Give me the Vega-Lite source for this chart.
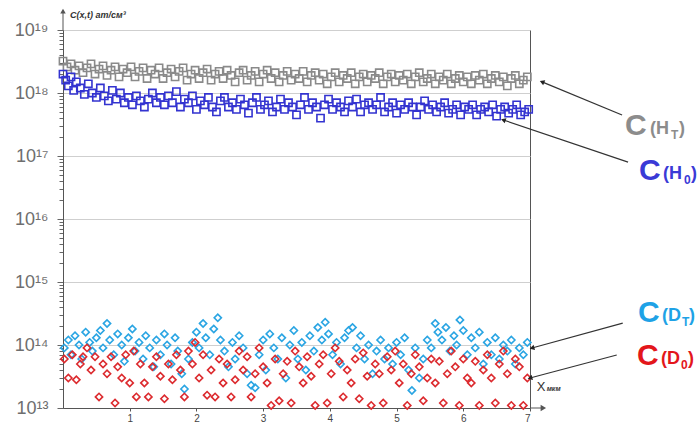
{
"$schema": "https://vega.github.io/schema/vega-lite/v6.json",
"width": 467, "height": 378,
"autosize": "none",
"padding": {"left": 63, "top": 30, "right": 170, "bottom": 15},
"background": "white",
"config": {"font": "Liberation Sans", "view": {"stroke": "#555", "strokeWidth": 1}},
"datasets": {
"pts": [
{"s":"HT","x":0.00,"y":3.2e18},{"s":"HT","x":0.06,"y":2.6e18},{"s":"HT","x":0.12,"y":2.9e18},{"s":"HT","x":0.18,"y":2.3e18},{"s":"HT","x":0.24,"y":2.7e18},{"s":"HT","x":0.30,"y":2.1e18},{"s":"HT","x":0.36,"y":2.5e18},{"s":"HT","x":0.42,"y":2.9e18},{"s":"HT","x":0.48,"y":2.0e18},{"s":"HT","x":0.54,"y":2.4e18},{"s":"HT","x":0.60,"y":2.7e18},{"s":"HT","x":0.66,"y":1.9e18},{"s":"HT","x":0.72,"y":2.3e18},{"s":"HT","x":0.78,"y":2.6e18},{"s":"HT","x":0.84,"y":1.8e18},{"s":"HT","x":0.90,"y":2.4e18},{"s":"HT","x":0.96,"y":2.1e18},{"s":"HT","x":1.02,"y":2.6e18},{"s":"HT","x":1.08,"y":1.8e18},{"s":"HT","x":1.14,"y":2.2e18},{"s":"HT","x":1.20,"y":2.5e18},{"s":"HT","x":1.26,"y":1.7e18},{"s":"HT","x":1.32,"y":2.3e18},{"s":"HT","x":1.38,"y":2.0e18},{"s":"HT","x":1.44,"y":2.5e18},{"s":"HT","x":1.50,"y":1.7e18},{"s":"HT","x":1.56,"y":2.1e18},{"s":"HT","x":1.62,"y":2.4e18},{"s":"HT","x":1.68,"y":1.8e18},{"s":"HT","x":1.74,"y":2.2e18},{"s":"HT","x":1.80,"y":2.5e18},{"s":"HT","x":1.86,"y":1.6e18},{"s":"HT","x":1.92,"y":2.0e18},{"s":"HT","x":1.98,"y":2.3e18},{"s":"HT","x":2.04,"y":1.7e18},{"s":"HT","x":2.10,"y":2.1e18},{"s":"HT","x":2.16,"y":2.4e18},{"s":"HT","x":2.22,"y":1.6e18},{"s":"HT","x":2.28,"y":2.0e18},{"s":"HT","x":2.34,"y":2.2e18},{"s":"HT","x":2.40,"y":1.7e18},{"s":"HT","x":2.46,"y":2.3e18},{"s":"HT","x":2.52,"y":1.9e18},{"s":"HT","x":2.58,"y":1.5e18},{"s":"HT","x":2.64,"y":2.1e18},{"s":"HT","x":2.70,"y":2.3e18},{"s":"HT","x":2.76,"y":1.6e18},{"s":"HT","x":2.82,"y":1.9e18},{"s":"HT","x":2.88,"y":2.2e18},{"s":"HT","x":2.94,"y":1.5e18},{"s":"HT","x":3.00,"y":2.0e18},{"s":"HT","x":3.06,"y":2.3e18},{"s":"HT","x":3.12,"y":1.7e18},{"s":"HT","x":3.18,"y":2.1e18},{"s":"HT","x":3.24,"y":1.5e18},{"s":"HT","x":3.30,"y":1.9e18},{"s":"HT","x":3.36,"y":2.2e18},{"s":"HT","x":3.42,"y":1.6e18},{"s":"HT","x":3.48,"y":2.0e18},{"s":"HT","x":3.54,"y":1.7e18},{"s":"HT","x":3.60,"y":2.2e18},{"s":"HT","x":3.66,"y":1.5e18},{"s":"HT","x":3.72,"y":1.9e18},{"s":"HT","x":3.78,"y":2.1e18},{"s":"HT","x":3.84,"y":1.6e18},{"s":"HT","x":3.90,"y":2.0e18},{"s":"HT","x":3.96,"y":1.4e18},{"s":"HT","x":4.02,"y":1.8e18},{"s":"HT","x":4.08,"y":2.1e18},{"s":"HT","x":4.14,"y":1.5e18},{"s":"HT","x":4.20,"y":1.9e18},{"s":"HT","x":4.26,"y":1.7e18},{"s":"HT","x":4.32,"y":2.1e18},{"s":"HT","x":4.38,"y":1.4e18},{"s":"HT","x":4.44,"y":1.8e18},{"s":"HT","x":4.50,"y":2.0e18},{"s":"HT","x":4.56,"y":1.5e18},{"s":"HT","x":4.62,"y":1.9e18},{"s":"HT","x":4.68,"y":1.7e18},{"s":"HT","x":4.74,"y":2.1e18},{"s":"HT","x":4.80,"y":1.4e18},{"s":"HT","x":4.86,"y":1.8e18},{"s":"HT","x":4.92,"y":2.0e18},{"s":"HT","x":4.98,"y":1.5e18},{"s":"HT","x":5.04,"y":1.9e18},{"s":"HT","x":5.10,"y":1.6e18},{"s":"HT","x":5.16,"y":2.0e18},{"s":"HT","x":5.22,"y":1.4e18},{"s":"HT","x":5.28,"y":1.8e18},{"s":"HT","x":5.34,"y":2.1e18},{"s":"HT","x":5.40,"y":1.5e18},{"s":"HT","x":5.46,"y":1.7e18},{"s":"HT","x":5.52,"y":2.0e18},{"s":"HT","x":5.58,"y":1.4e18},{"s":"HT","x":5.64,"y":1.8e18},{"s":"HT","x":5.70,"y":1.6e18},{"s":"HT","x":5.76,"y":2.0e18},{"s":"HT","x":5.82,"y":1.4e18},{"s":"HT","x":5.88,"y":1.7e18},{"s":"HT","x":5.94,"y":1.9e18},{"s":"HT","x":6.00,"y":1.5e18},{"s":"HT","x":6.06,"y":1.8e18},{"s":"HT","x":6.12,"y":1.4e18},{"s":"HT","x":6.18,"y":1.9e18},{"s":"HT","x":6.24,"y":1.6e18},{"s":"HT","x":6.30,"y":2.0e18},{"s":"HT","x":6.36,"y":1.4e18},{"s":"HT","x":6.42,"y":1.7e18},{"s":"HT","x":6.48,"y":1.9e18},{"s":"HT","x":6.54,"y":1.5e18},{"s":"HT","x":6.60,"y":1.8e18},{"s":"HT","x":6.66,"y":1.3e18},{"s":"HT","x":6.72,"y":1.7e18},{"s":"HT","x":6.78,"y":1.9e18},{"s":"HT","x":6.84,"y":1.4e18},{"s":"HT","x":6.90,"y":1.6e18},{"s":"HT","x":6.96,"y":1.8e18},
{"s":"H0","x":0.00,"y":2.0e18},{"s":"H0","x":0.04,"y":1.6e18},{"s":"H0","x":0.08,"y":1.3e18},{"s":"H0","x":0.12,"y":1.8e18},{"s":"H0","x":0.16,"y":1.1e18},{"s":"H0","x":0.20,"y":1.5e18},{"s":"H0","x":0.26,"y":1.2e18},{"s":"H0","x":0.32,"y":9.5e17},{"s":"H0","x":0.38,"y":1.4e18},{"s":"H0","x":0.44,"y":1.0e18},{"s":"H0","x":0.50,"y":8.5e17},{"s":"H0","x":0.56,"y":1.2e18},{"s":"H0","x":0.62,"y":9.0e17},{"s":"H0","x":0.68,"y":7.5e17},{"s":"H0","x":0.74,"y":1.1e18},{"s":"H0","x":0.80,"y":8.0e17},{"s":"H0","x":0.86,"y":1.0e18},{"s":"H0","x":0.92,"y":7.0e17},{"s":"H0","x":0.98,"y":8.5e17},{"s":"H0","x":1.04,"y":6.5e17},{"s":"H0","x":1.10,"y":9.0e17},{"s":"H0","x":1.16,"y":7.5e17},{"s":"H0","x":1.22,"y":6.0e17},{"s":"H0","x":1.28,"y":8.0e17},{"s":"H0","x":1.34,"y":1.0e18},{"s":"H0","x":1.40,"y":7.0e17},{"s":"H0","x":1.46,"y":8.5e17},{"s":"H0","x":1.52,"y":6.5e17},{"s":"H0","x":1.58,"y":9.0e17},{"s":"H0","x":1.64,"y":7.0e17},{"s":"H0","x":1.70,"y":1.05e18},{"s":"H0","x":1.76,"y":6.0e17},{"s":"H0","x":1.82,"y":8.0e17},{"s":"H0","x":1.88,"y":7.0e17},{"s":"H0","x":1.94,"y":9.0e17},{"s":"H0","x":2.00,"y":5.5e17},{"s":"H0","x":2.06,"y":7.5e17},{"s":"H0","x":2.12,"y":6.5e17},{"s":"H0","x":2.18,"y":8.5e17},{"s":"H0","x":2.24,"y":6.0e17},{"s":"H0","x":2.30,"y":5.0e17},{"s":"H0","x":2.36,"y":7.5e17},{"s":"H0","x":2.42,"y":8.5e17},{"s":"H0","x":2.48,"y":6.0e17},{"s":"H0","x":2.54,"y":7.0e17},{"s":"H0","x":2.60,"y":5.5e17},{"s":"H0","x":2.66,"y":8.0e17},{"s":"H0","x":2.72,"y":6.5e17},{"s":"H0","x":2.78,"y":4.8e17},{"s":"H0","x":2.84,"y":7.0e17},{"s":"H0","x":2.90,"y":8.5e17},{"s":"H0","x":2.96,"y":5.5e17},{"s":"H0","x":3.02,"y":6.5e17},{"s":"H0","x":3.08,"y":7.5e17},{"s":"H0","x":3.14,"y":5.0e17},{"s":"H0","x":3.20,"y":6.0e17},{"s":"H0","x":3.26,"y":8.0e17},{"s":"H0","x":3.32,"y":5.5e17},{"s":"H0","x":3.38,"y":7.0e17},{"s":"H0","x":3.44,"y":6.0e17},{"s":"H0","x":3.50,"y":4.5e17},{"s":"H0","x":3.56,"y":6.5e17},{"s":"H0","x":3.62,"y":8.5e17},{"s":"H0","x":3.68,"y":5.5e17},{"s":"H0","x":3.74,"y":7.0e17},{"s":"H0","x":3.80,"y":6.0e17},{"s":"H0","x":3.86,"y":4.0e17},{"s":"H0","x":3.92,"y":6.5e17},{"s":"H0","x":3.98,"y":8.0e17},{"s":"H0","x":4.04,"y":5.5e17},{"s":"H0","x":4.10,"y":7.0e17},{"s":"H0","x":4.16,"y":6.0e17},{"s":"H0","x":4.22,"y":5.0e17},{"s":"H0","x":4.28,"y":7.5e17},{"s":"H0","x":4.34,"y":6.0e17},{"s":"H0","x":4.40,"y":8.0e17},{"s":"H0","x":4.46,"y":5.0e17},{"s":"H0","x":4.52,"y":6.5e17},{"s":"H0","x":4.58,"y":7.0e17},{"s":"H0","x":4.64,"y":5.5e17},{"s":"H0","x":4.70,"y":6.5e17},{"s":"H0","x":4.76,"y":8.5e17},{"s":"H0","x":4.82,"y":5.0e17},{"s":"H0","x":4.88,"y":6.0e17},{"s":"H0","x":4.94,"y":7.0e17},{"s":"H0","x":5.00,"y":4.8e17},{"s":"H0","x":5.06,"y":6.5e17},{"s":"H0","x":5.12,"y":5.5e17},{"s":"H0","x":5.18,"y":7.0e17},{"s":"H0","x":5.24,"y":6.0e17},{"s":"H0","x":5.30,"y":4.5e17},{"s":"H0","x":5.36,"y":6.0e17},{"s":"H0","x":5.42,"y":7.5e17},{"s":"H0","x":5.48,"y":5.5e17},{"s":"H0","x":5.54,"y":6.5e17},{"s":"H0","x":5.60,"y":5.0e17},{"s":"H0","x":5.66,"y":6.0e17},{"s":"H0","x":5.72,"y":7.0e17},{"s":"H0","x":5.78,"y":4.8e17},{"s":"H0","x":5.84,"y":5.5e17},{"s":"H0","x":5.90,"y":6.5e17},{"s":"H0","x":5.96,"y":4.5e17},{"s":"H0","x":6.02,"y":6.0e17},{"s":"H0","x":6.08,"y":5.5e17},{"s":"H0","x":6.14,"y":6.5e17},{"s":"H0","x":6.20,"y":4.5e17},{"s":"H0","x":6.26,"y":5.5e17},{"s":"H0","x":6.32,"y":6.0e17},{"s":"H0","x":6.38,"y":5.0e17},{"s":"H0","x":6.44,"y":6.5e17},{"s":"H0","x":6.50,"y":4.3e17},{"s":"H0","x":6.56,"y":5.5e17},{"s":"H0","x":6.62,"y":6.0e17},{"s":"H0","x":6.68,"y":4.8e17},{"s":"H0","x":6.74,"y":5.5e17},{"s":"H0","x":6.80,"y":6.5e17},{"s":"H0","x":6.86,"y":4.5e17},{"s":"H0","x":6.92,"y":5.0e17},{"s":"H0","x":6.98,"y":5.5e17},
{"s":"DT","x":0.02,"y":9e13},{"s":"DT","x":0.08,"y":12e13},{"s":"DT","x":0.12,"y":7e13},{"s":"DT","x":0.18,"y":14e13},{"s":"DT","x":0.24,"y":10e13},{"s":"DT","x":0.28,"y":6e13},{"s":"DT","x":0.34,"y":16e13},{"s":"DT","x":0.40,"y":11e13},{"s":"DT","x":0.44,"y":8e13},{"s":"DT","x":0.50,"y":13e13},{"s":"DT","x":0.56,"y":17e13},{"s":"DT","x":0.60,"y":9e13},{"s":"DT","x":0.66,"y":22e13},{"s":"DT","x":0.70,"y":12e13},{"s":"DT","x":0.76,"y":7e13},{"s":"DT","x":0.82,"y":15e13},{"s":"DT","x":0.88,"y":10e13},{"s":"DT","x":0.92,"y":5.5e13},{"s":"DT","x":0.98,"y":13e13},{"s":"DT","x":1.04,"y":18e13},{"s":"DT","x":1.08,"y":8e13},{"s":"DT","x":1.14,"y":11e13},{"s":"DT","x":1.20,"y":6e13},{"s":"DT","x":1.24,"y":14e13},{"s":"DT","x":1.30,"y":9e13},{"s":"DT","x":1.36,"y":4.5e13},{"s":"DT","x":1.40,"y":12e13},{"s":"DT","x":1.46,"y":7e13},{"s":"DT","x":1.52,"y":15e13},{"s":"DT","x":1.56,"y":10e13},{"s":"DT","x":1.62,"y":5e13},{"s":"DT","x":1.68,"y":13e13},{"s":"DT","x":1.72,"y":8e13},{"s":"DT","x":1.78,"y":3.5e13},{"s":"DT","x":1.82,"y":2e13},{"s":"DT","x":1.88,"y":6e13},{"s":"DT","x":1.94,"y":11e13},{"s":"DT","x":2.00,"y":16e13},{"s":"DT","x":2.04,"y":9e13},{"s":"DT","x":2.10,"y":22e13},{"s":"DT","x":2.14,"y":13e13},{"s":"DT","x":2.20,"y":7e13},{"s":"DT","x":2.26,"y":18e13},{"s":"DT","x":2.32,"y":27e13},{"s":"DT","x":2.36,"y":12e13},{"s":"DT","x":2.42,"y":8e13},{"s":"DT","x":2.48,"y":4.5e13},{"s":"DT","x":2.54,"y":11e13},{"s":"DT","x":2.58,"y":6e13},{"s":"DT","x":2.64,"y":14e13},{"s":"DT","x":2.70,"y":9e13},{"s":"DT","x":2.76,"y":3.5e13},{"s":"DT","x":2.82,"y":2.3e13},{"s":"DT","x":2.88,"y":2.1e13},{"s":"DT","x":2.94,"y":7e13},{"s":"DT","x":3.00,"y":12e13},{"s":"DT","x":3.04,"y":4e13},{"s":"DT","x":3.10,"y":15e13},{"s":"DT","x":3.16,"y":9e13},{"s":"DT","x":3.22,"y":6e13},{"s":"DT","x":3.28,"y":13e13},{"s":"DT","x":3.34,"y":3e13},{"s":"DT","x":3.40,"y":10e13},{"s":"DT","x":3.46,"y":17e13},{"s":"DT","x":3.52,"y":6e13},{"s":"DT","x":3.58,"y":11e13},{"s":"DT","x":3.64,"y":4e13},{"s":"DT","x":3.70,"y":14e13},{"s":"DT","x":3.76,"y":8e13},{"s":"DT","x":3.82,"y":19e13},{"s":"DT","x":3.88,"y":12e13},{"s":"DT","x":3.93,"y":23e13},{"s":"DT","x":3.98,"y":15e13},{"s":"DT","x":4.04,"y":7e13},{"s":"DT","x":4.10,"y":11e13},{"s":"DT","x":4.16,"y":5e13},{"s":"DT","x":4.22,"y":13e13},{"s":"DT","x":4.28,"y":17e13},{"s":"DT","x":4.34,"y":19e13},{"s":"DT","x":4.40,"y":9e13},{"s":"DT","x":4.46,"y":14e13},{"s":"DT","x":4.52,"y":6e13},{"s":"DT","x":4.58,"y":10e13},{"s":"DT","x":4.64,"y":3.5e13},{"s":"DT","x":4.70,"y":8e13},{"s":"DT","x":4.76,"y":12e13},{"s":"DT","x":4.82,"y":6e13},{"s":"DT","x":4.88,"y":9e13},{"s":"DT","x":4.94,"y":5e13},{"s":"DT","x":5.00,"y":11e13},{"s":"DT","x":5.06,"y":7e13},{"s":"DT","x":5.12,"y":13e13},{"s":"DT","x":5.18,"y":4e13},{"s":"DT","x":5.23,"y":1.9e13},{"s":"DT","x":5.28,"y":9e13},{"s":"DT","x":5.34,"y":3e13},{"s":"DT","x":5.40,"y":6e13},{"s":"DT","x":5.46,"y":12e13},{"s":"DT","x":5.52,"y":9e13},{"s":"DT","x":5.58,"y":22e13},{"s":"DT","x":5.62,"y":16e13},{"s":"DT","x":5.68,"y":12e13},{"s":"DT","x":5.74,"y":19e13},{"s":"DT","x":5.80,"y":8e13},{"s":"DT","x":5.86,"y":14e13},{"s":"DT","x":5.90,"y":10e13},{"s":"DT","x":5.95,"y":25e13},{"s":"DT","x":6.00,"y":17e13},{"s":"DT","x":6.06,"y":7e13},{"s":"DT","x":6.12,"y":13e13},{"s":"DT","x":6.18,"y":9e13},{"s":"DT","x":6.24,"y":16e13},{"s":"DT","x":6.30,"y":5e13},{"s":"DT","x":6.36,"y":11e13},{"s":"DT","x":6.42,"y":7e13},{"s":"DT","x":6.48,"y":13e13},{"s":"DT","x":6.54,"y":6e13},{"s":"DT","x":6.60,"y":10e13},{"s":"DT","x":6.66,"y":8e13},{"s":"DT","x":6.72,"y":12e13},{"s":"DT","x":6.78,"y":5e13},{"s":"DT","x":6.84,"y":9e13},{"s":"DT","x":6.90,"y":7e13},{"s":"DT","x":6.96,"y":11e13},
{"s":"D0","x":0.02,"y":6e13},{"s":"D0","x":0.08,"y":3e13},{"s":"D0","x":0.14,"y":7e13},{"s":"D0","x":0.20,"y":2.8e13},{"s":"D0","x":0.26,"y":5e13},{"s":"D0","x":0.30,"y":6.5e13},{"s":"D0","x":0.36,"y":9e13},{"s":"D0","x":0.42,"y":4e13},{"s":"D0","x":0.48,"y":6.5e13},{"s":"D0","x":0.54,"y":1.5e13},{"s":"D0","x":0.60,"y":5e13},{"s":"D0","x":0.66,"y":3.5e13},{"s":"D0","x":0.72,"y":6.5e13},{"s":"D0","x":0.78,"y":1.2e13},{"s":"D0","x":0.82,"y":4.5e13},{"s":"D0","x":0.88,"y":3e13},{"s":"D0","x":0.94,"y":7e13},{"s":"D0","x":1.00,"y":2.5e13},{"s":"D0","x":1.06,"y":8e13},{"s":"D0","x":1.10,"y":1.5e13},{"s":"D0","x":1.16,"y":5e13},{"s":"D0","x":1.22,"y":2.5e13},{"s":"D0","x":1.28,"y":1.5e13},{"s":"D0","x":1.34,"y":4.5e13},{"s":"D0","x":1.40,"y":6.5e13},{"s":"D0","x":1.46,"y":3.2e13},{"s":"D0","x":1.52,"y":1.4e13},{"s":"D0","x":1.58,"y":5e13},{"s":"D0","x":1.64,"y":2.8e13},{"s":"D0","x":1.70,"y":7e13},{"s":"D0","x":1.76,"y":4e13},{"s":"D0","x":1.82,"y":1.5e13},{"s":"D0","x":1.88,"y":8e13},{"s":"D0","x":1.94,"y":5e13},{"s":"D0","x":1.98,"y":11e13},{"s":"D0","x":2.04,"y":3e13},{"s":"D0","x":2.10,"y":7e13},{"s":"D0","x":2.16,"y":1.6e13},{"s":"D0","x":2.22,"y":4e13},{"s":"D0","x":2.28,"y":1.5e13},{"s":"D0","x":2.34,"y":6e13},{"s":"D0","x":2.40,"y":2.5e13},{"s":"D0","x":2.46,"y":5e13},{"s":"D0","x":2.52,"y":1.5e13},{"s":"D0","x":2.58,"y":2.8e13},{"s":"D0","x":2.64,"y":8e13},{"s":"D0","x":2.70,"y":4e13},{"s":"D0","x":2.76,"y":6.5e13},{"s":"D0","x":2.82,"y":1.5e13},{"s":"D0","x":2.88,"y":3.5e13},{"s":"D0","x":2.94,"y":9e13},{"s":"D0","x":3.00,"y":4.5e13},{"s":"D0","x":3.06,"y":2.5e13},{"s":"D0","x":3.12,"y":1.1e13},{"s":"D0","x":3.18,"y":6e13},{"s":"D0","x":3.24,"y":1.3e13},{"s":"D0","x":3.30,"y":3.5e13},{"s":"D0","x":3.36,"y":5.5e13},{"s":"D0","x":3.42,"y":1.2e13},{"s":"D0","x":3.48,"y":8e13},{"s":"D0","x":3.54,"y":4.5e13},{"s":"D0","x":3.60,"y":2.5e13},{"s":"D0","x":3.66,"y":6.5e13},{"s":"D0","x":3.72,"y":3.2e13},{"s":"D0","x":3.78,"y":1.1e13},{"s":"D0","x":3.84,"y":5e13},{"s":"D0","x":3.90,"y":7e13},{"s":"D0","x":3.96,"y":1.2e13},{"s":"D0","x":4.02,"y":3.5e13},{"s":"D0","x":4.08,"y":9e13},{"s":"D0","x":4.14,"y":5.5e13},{"s":"D0","x":4.20,"y":1.5e13},{"s":"D0","x":4.26,"y":4e13},{"s":"D0","x":4.32,"y":2.5e13},{"s":"D0","x":4.38,"y":6e13},{"s":"D0","x":4.44,"y":1.4e13},{"s":"D0","x":4.50,"y":7.5e13},{"s":"D0","x":4.56,"y":3.2e13},{"s":"D0","x":4.62,"y":1.1e13},{"s":"D0","x":4.68,"y":5e13},{"s":"D0","x":4.74,"y":3.5e13},{"s":"D0","x":4.80,"y":1.2e13},{"s":"D0","x":4.86,"y":6.5e13},{"s":"D0","x":4.92,"y":4e13},{"s":"D0","x":4.98,"y":8e13},{"s":"D0","x":5.04,"y":2.5e13},{"s":"D0","x":5.10,"y":5e13},{"s":"D0","x":5.16,"y":1.1e13},{"s":"D0","x":5.22,"y":3.5e13},{"s":"D0","x":5.28,"y":7e13},{"s":"D0","x":5.34,"y":4.5e13},{"s":"D0","x":5.40,"y":1.3e13},{"s":"D0","x":5.46,"y":3e13},{"s":"D0","x":5.52,"y":6e13},{"s":"D0","x":5.58,"y":2.5e13},{"s":"D0","x":5.64,"y":5.5e13},{"s":"D0","x":5.70,"y":1.2e13},{"s":"D0","x":5.76,"y":3.5e13},{"s":"D0","x":5.82,"y":8e13},{"s":"D0","x":5.88,"y":4.5e13},{"s":"D0","x":5.94,"y":1.1e13},{"s":"D0","x":6.00,"y":6e13},{"s":"D0","x":6.06,"y":3e13},{"s":"D0","x":6.12,"y":2.5e13},{"s":"D0","x":6.18,"y":5.5e13},{"s":"D0","x":6.24,"y":1.1e13},{"s":"D0","x":6.30,"y":4e13},{"s":"D0","x":6.36,"y":7e13},{"s":"D0","x":6.42,"y":3e13},{"s":"D0","x":6.48,"y":1.2e13},{"s":"D0","x":6.54,"y":5e13},{"s":"D0","x":6.60,"y":8e13},{"s":"D0","x":6.66,"y":3.5e13},{"s":"D0","x":6.72,"y":1.1e13},{"s":"D0","x":6.78,"y":6e13},{"s":"D0","x":6.84,"y":4.5e13},{"s":"D0","x":6.90,"y":1.1e13},{"s":"D0","x":6.96,"y":3e13}
]
},
"encoding": {
"x": {"type": "quantitative", "scale": {"domain": [0, 7], "nice": false, "zero": false},
 "axis": {"values": [1,2,3,4,5,6,7], "title": null, "grid": false, "domainColor": "#555", "tickColor": "#555", "tickSize": 3, "labelFontSize": 10, "labelColor": "#444", "labelPadding": 2}},
"y": {"type": "quantitative", "scale": {"type": "log", "domain": [1e13, 1e19], "nice": false},
 "axis": {"title": null,
  "values": [1e13,2e13,3e13,4e13,5e13,6e13,7e13,8e13,9e13,1e14,2e14,3e14,4e14,5e14,6e14,7e14,8e14,9e14,1e15,2e15,3e15,4e15,5e15,6e15,7e15,8e15,9e15,1e16,2e16,3e16,4e16,5e16,6e16,7e16,8e16,9e16,1e17,2e17,3e17,4e17,5e17,6e17,7e17,8e17,9e17,1e18,2e18,3e18,4e18,5e18,6e18,7e18,8e18,9e18,1e19],
  "labelExpr": "abs(log(datum.value)/LN10 - round(log(datum.value)/LN10)) < 0.01 ? '10' + ['¹³','¹⁴','¹⁵','¹⁶','¹⁷','¹⁸','¹⁹'][round(log(datum.value)/LN10)-13] : ''",
  "labelOverlap": false, "labelBound": false,
  "grid": true, "gridColor": "#cfcfcf",
  "gridOpacity": {"condition": {"test": "abs(log(datum.value)/LN10 - round(log(datum.value)/LN10)) < 0.01", "value": 1}, "value": 0},
  "tickSize": {"condition": {"test": "abs(log(datum.value)/LN10 - round(log(datum.value)/LN10)) < 0.01", "value": 6}, "value": 4},
  "domainColor": "#555", "tickColor": "#666",
  "labelFontSize": 18, "labelColor": "#6e6e6e", "labelPadding": 9}}
},
"layer": [
{"data": {"name": "pts"},
 "mark": {"type": "point", "filled": false, "strokeWidth": 1.6, "opacity": 1},
 "encoding": {
  "x": {"field": "x", "type": "quantitative"},
  "y": {"field": "y", "type": "quantitative"},
  "color": {"field": "s", "type": "nominal", "legend": null, "scale": {"domain": ["HT","H0","DT","D0"], "range": ["#8a8a8a","#3333d0","#2aa5e3","#dc2a2e"]}},
  "shape": {"field": "s", "type": "nominal", "legend": null, "scale": {"domain": ["HT","H0","DT","D0"], "range": ["square","square","diamond","diamond"]}},
  "size": {"field": "s", "type": "nominal", "legend": null, "scale": {"domain": ["HT","H0","DT","D0"], "range": [52,52,46,46]}}
 }},
{"data": {"values": [{}]}, "mark": {"type": "rule", "color": "#555", "strokeWidth": 1}, "encoding": {"x": {"datum": 7}, "x2": {"datum": 7.2}, "y": {"datum": 1e13}}},
{"data": {"values": [{}]}, "mark": {"type": "point", "shape": "triangle-right", "filled": true, "color": "#555", "size": 40, "opacity": 1}, "encoding": {"x": {"datum": 7.2}, "y": {"datum": 1e13}}},
{"data": {"values": [{}]}, "mark": {"type": "rule", "color": "#555", "strokeWidth": 1}, "encoding": {"x": {"datum": 0}, "y": {"datum": 1e19}, "y2": {"datum": 2.0e19}}},
{"data": {"values": [{}]}, "mark": {"type": "point", "shape": "triangle-up", "filled": true, "color": "#555", "size": 30, "opacity": 1}, "encoding": {"x": {"datum": 0}, "y": {"datum": 2.0e19}}},
{"data": {"values": [{}]}, "mark": {"type": "text", "text": "C(x,t) ат/см³", "fontSize": 9, "fontStyle": "italic", "fontWeight": "bold", "color": "#333", "align": "left", "baseline": "alphabetic"}, "encoding": {"x": {"datum": 0.105}, "y": {"datum": 1.55e19}}},
{"data": {"values": [{}]}, "mark": {"type": "text", "text": "X", "fontSize": 13, "color": "#333", "align": "left", "baseline": "alphabetic"}, "encoding": {"x": {"datum": 7.1}, "y": {"datum": 1.86e13}}},
{"data": {"values": [{}]}, "mark": {"type": "text", "text": "мкм", "fontSize": 7, "fontStyle": "italic", "fontWeight": "bold", "color": "#333", "align": "left", "baseline": "alphabetic", "dx": 10}, "encoding": {"x": {"datum": 7.1}, "y": {"datum": 1.86e13}}},
{"data": {"values": [{}]}, "mark": {"type": "rule", "color": "#333", "strokeWidth": 1.2}, "encoding": {"x": {"datum": 8.38}, "y": {"datum": 4.48e17}, "x2": {"datum": 7.18}, "y2": {"datum": 1.5e18}}},
{"data": {"values": [{}]}, "mark": {"type": "point", "shape": "triangle-right", "filled": true, "color": "#222", "size": 30, "angle": 202.4, "opacity": 1}, "encoding": {"x": {"datum": 7.18}, "y": {"datum": 1.5e18}}},
{"data": {"values": [{}]}, "mark": {"type": "rule", "color": "#333", "strokeWidth": 1.2}, "encoding": {"x": {"datum": 8.47}, "y": {"datum": 8.0e16}, "x2": {"datum": 6.6}, "y2": {"datum": 3.73e17}}},
{"data": {"values": [{}]}, "mark": {"type": "point", "shape": "triangle-right", "filled": true, "color": "#222", "size": 30, "angle": 198.6, "opacity": 1}, "encoding": {"x": {"datum": 6.6}, "y": {"datum": 3.73e17}}},
{"data": {"values": [{}]}, "mark": {"type": "rule", "color": "#333", "strokeWidth": 1.2}, "encoding": {"x": {"datum": 8.39}, "y": {"datum": 2.23e14}, "x2": {"datum": 7.03}, "y2": {"datum": 8.96e13}}},
{"data": {"values": [{}]}, "mark": {"type": "point", "shape": "triangle-right", "filled": true, "color": "#222", "size": 30, "angle": 164.6, "opacity": 1}, "encoding": {"x": {"datum": 7.03}, "y": {"datum": 8.96e13}}},
{"data": {"values": [{}]}, "mark": {"type": "rule", "color": "#333", "strokeWidth": 1.2}, "encoding": {"x": {"datum": 8.3}, "y": {"datum": 6.94e13}, "x2": {"datum": 7.0}, "y2": {"datum": 2.99e13}}},
{"data": {"values": [{}]}, "mark": {"type": "point", "shape": "triangle-right", "filled": true, "color": "#222", "size": 30, "angle": 165.2, "opacity": 1}, "encoding": {"x": {"datum": 7.0}, "y": {"datum": 2.99e13}}},
{"data": {"values": [{}]}, "mark": {"type": "text", "text": "C", "fontSize": 30, "fontWeight": "bold", "color": "#8c8c8c", "align": "left", "baseline": "alphabetic"}, "encoding": {"x": {"datum": 8.425}, "y": {"datum": 2.15e17}}},
{"data": {"values": [{}]}, "mark": {"type": "text", "text": "(H", "fontSize": 18, "fontWeight": "bold", "color": "#8c8c8c", "align": "left", "baseline": "alphabetic", "dx": 25, "dy": -1}, "encoding": {"x": {"datum": 8.425}, "y": {"datum": 2.15e17}}},
{"data": {"values": [{}]}, "mark": {"type": "text", "text": "T", "fontSize": 12, "fontWeight": "bold", "color": "#8c8c8c", "align": "left", "baseline": "alphabetic", "dx": 46, "dy": 4}, "encoding": {"x": {"datum": 8.425}, "y": {"datum": 2.15e17}}},
{"data": {"values": [{}]}, "mark": {"type": "text", "text": ")", "fontSize": 18, "fontWeight": "bold", "color": "#8c8c8c", "align": "left", "baseline": "alphabetic", "dx": 54, "dy": -1}, "encoding": {"x": {"datum": 8.425}, "y": {"datum": 2.15e17}}},
{"data": {"values": [{}]}, "mark": {"type": "text", "text": "C", "fontSize": 30, "fontWeight": "bold", "color": "#3a3ad6", "align": "left", "baseline": "alphabetic"}, "encoding": {"x": {"datum": 8.634}, "y": {"datum": 4.16e16}}},
{"data": {"values": [{}]}, "mark": {"type": "text", "text": "(H", "fontSize": 18, "fontWeight": "bold", "color": "#3a3ad6", "align": "left", "baseline": "alphabetic", "dx": 24, "dy": -1}, "encoding": {"x": {"datum": 8.634}, "y": {"datum": 4.16e16}}},
{"data": {"values": [{}]}, "mark": {"type": "text", "text": "0", "fontSize": 12, "fontWeight": "bold", "color": "#3a3ad6", "align": "left", "baseline": "alphabetic", "dx": 45, "dy": 4}, "encoding": {"x": {"datum": 8.634}, "y": {"datum": 4.16e16}}},
{"data": {"values": [{}]}, "mark": {"type": "text", "text": ")", "fontSize": 18, "fontWeight": "bold", "color": "#3a3ad6", "align": "left", "baseline": "alphabetic", "dx": 52, "dy": -1}, "encoding": {"x": {"datum": 8.634}, "y": {"datum": 4.16e16}}},
{"data": {"values": [{}]}, "mark": {"type": "text", "text": "C", "fontSize": 30, "fontWeight": "bold", "color": "#1ea2e6", "align": "left", "baseline": "alphabetic"}, "encoding": {"x": {"datum": 8.62}, "y": {"datum": 2.32e14}}},
{"data": {"values": [{}]}, "mark": {"type": "text", "text": "(D", "fontSize": 18, "fontWeight": "bold", "color": "#1ea2e6", "align": "left", "baseline": "alphabetic", "dx": 24, "dy": -1}, "encoding": {"x": {"datum": 8.62}, "y": {"datum": 2.32e14}}},
{"data": {"values": [{}]}, "mark": {"type": "text", "text": "T", "fontSize": 12, "fontWeight": "bold", "color": "#1ea2e6", "align": "left", "baseline": "alphabetic", "dx": 44, "dy": 4}, "encoding": {"x": {"datum": 8.62}, "y": {"datum": 2.32e14}}},
{"data": {"values": [{}]}, "mark": {"type": "text", "text": ")", "fontSize": 18, "fontWeight": "bold", "color": "#1ea2e6", "align": "left", "baseline": "alphabetic", "dx": 51, "dy": -1}, "encoding": {"x": {"datum": 8.62}, "y": {"datum": 2.32e14}}},
{"data": {"values": [{}]}, "mark": {"type": "text", "text": "C", "fontSize": 30, "fontWeight": "bold", "color": "#e3161b", "align": "left", "baseline": "alphabetic"}, "encoding": {"x": {"datum": 8.605}, "y": {"datum": 4.82e13}}},
{"data": {"values": [{}]}, "mark": {"type": "text", "text": "(D", "fontSize": 18, "fontWeight": "bold", "color": "#e3161b", "align": "left", "baseline": "alphabetic", "dx": 24, "dy": -1}, "encoding": {"x": {"datum": 8.605}, "y": {"datum": 4.82e13}}},
{"data": {"values": [{}]}, "mark": {"type": "text", "text": "0", "fontSize": 12, "fontWeight": "bold", "color": "#e3161b", "align": "left", "baseline": "alphabetic", "dx": 44, "dy": 4}, "encoding": {"x": {"datum": 8.605}, "y": {"datum": 4.82e13}}},
{"data": {"values": [{}]}, "mark": {"type": "text", "text": ")", "fontSize": 18, "fontWeight": "bold", "color": "#e3161b", "align": "left", "baseline": "alphabetic", "dx": 51, "dy": -1}, "encoding": {"x": {"datum": 8.605}, "y": {"datum": 4.82e13}}}
]
}
